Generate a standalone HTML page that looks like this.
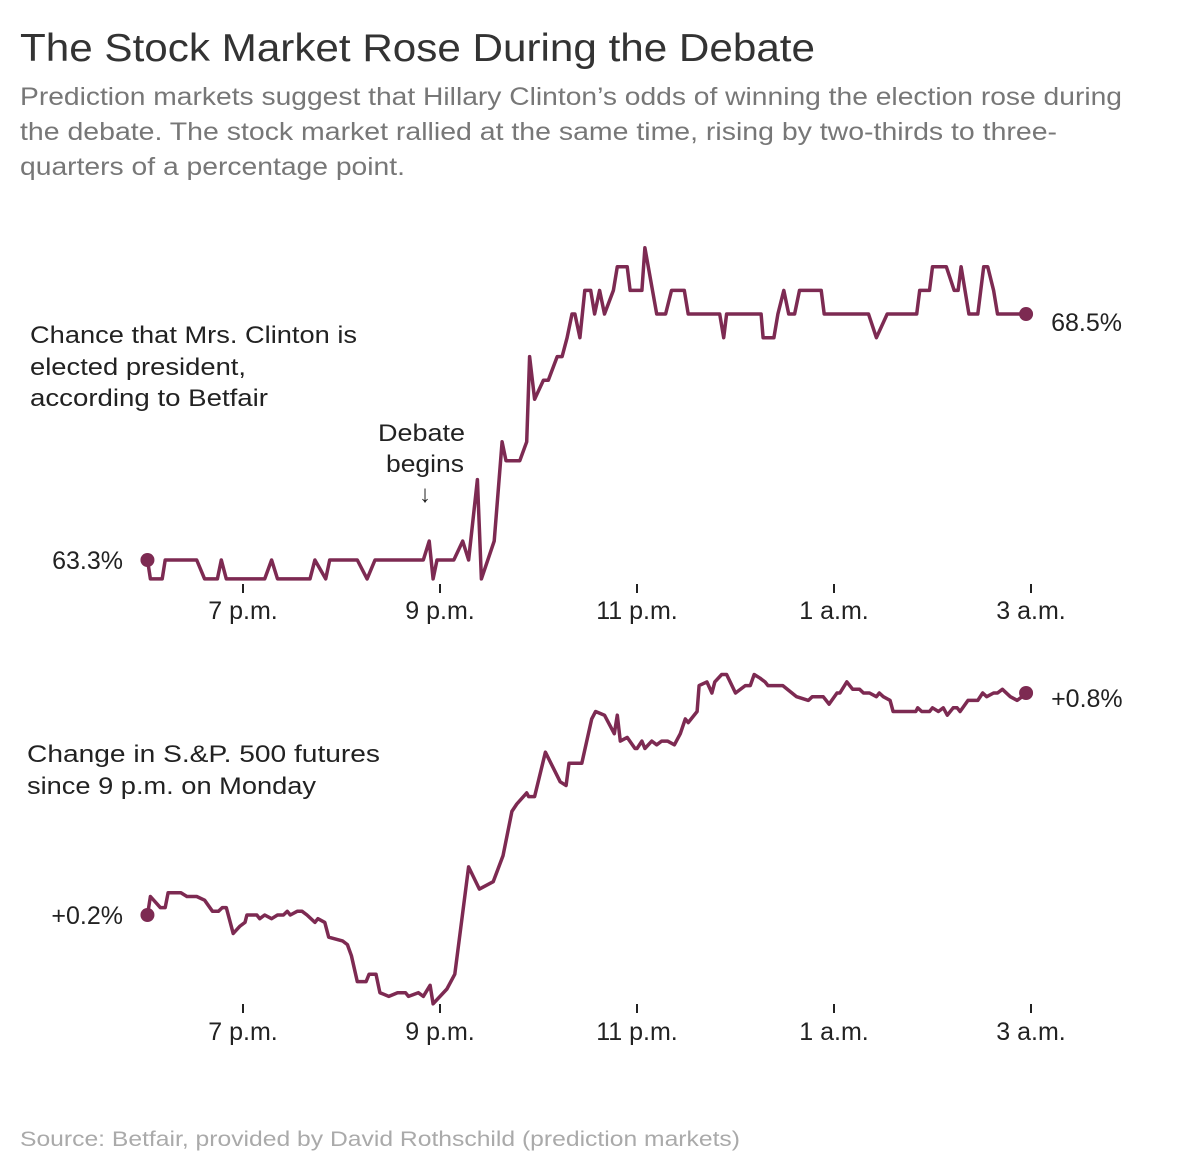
<!DOCTYPE html>
<html><head><meta charset="utf-8"><style>
body{margin:0;background:#fff;}
svg{display:block;font-family:"Liberation Sans",sans-serif;}
</style></head><body>
<svg id="chart" width="1200" height="1172" viewBox="0 0 1200 1172">
<text x="20" y="61" font-size="39" fill="#333" textLength="795" lengthAdjust="spacingAndGlyphs">The Stock Market Rose During the Debate</text>
<g font-size="25" fill="#777">
<text x="20" y="105" textLength="1102" lengthAdjust="spacingAndGlyphs">Prediction markets suggest that Hillary Clinton’s odds of winning the election rose during</text>
<text x="20" y="140" textLength="1037" lengthAdjust="spacingAndGlyphs">the debate. The stock market rallied at the same time, rising by two-thirds to three-</text>
<text x="20" y="175" textLength="385" lengthAdjust="spacingAndGlyphs">quarters of a percentage point.</text>
</g>
<g font-size="24" fill="#222">
<text x="30" y="343" textLength="327" lengthAdjust="spacingAndGlyphs">Chance that Mrs. Clinton is</text>
<text x="30" y="375" textLength="216" lengthAdjust="spacingAndGlyphs">elected president,</text>
<text x="30" y="406" textLength="238" lengthAdjust="spacingAndGlyphs">according to Betfair</text>
</g>
<g font-size="24" fill="#222">
<text x="378" y="441" textLength="87" lengthAdjust="spacingAndGlyphs">Debate</text>
<text x="386" y="472" textLength="78" lengthAdjust="spacingAndGlyphs">begins</text>
<text x="425" y="502" text-anchor="middle">↓</text>
</g>
<g font-size="24" fill="#222">
<text x="27" y="762" textLength="353" lengthAdjust="spacingAndGlyphs">Change in S.&amp;P. 500 futures</text>
<text x="27" y="794" textLength="289" lengthAdjust="spacingAndGlyphs">since 9 p.m. on Monday</text>
</g>
<text x="20" y="1146" font-size="21" fill="#aaa" textLength="720" lengthAdjust="spacingAndGlyphs">Source: Betfair, provided by David Rothschild (prediction markets)</text>
<g id="topChart"></g>
<g id="botChart"></g>
</svg>
<script>
const tickHours = [1, 3, 5, 7, 9];
const tickLabels = ["7 p.m.", "9 p.m.", "11 p.m.", "1 a.m.", "3 a.m."];
// hours after 6 p.m.
const betfairTimes = [0.03,0.06,0.18,0.21,0.53,0.61,0.74,0.78,0.83,1.22,1.29,1.35,1.68,1.73,1.84,1.88,2.16,2.26,2.34,2.83,2.89,2.93,2.97,3.14,3.23,3.29,3.38,3.42,3.55,3.63,3.67,3.81,3.88,3.91,3.96,4.05,4.10,4.19,4.24,4.29,4.34,4.37,4.42,4.47,4.53,4.57,4.62,4.67,4.76,4.80,4.90,4.93,5.05,5.08,5.20,5.29,5.35,5.48,5.52,5.84,5.88,5.91,6.26,6.28,6.39,6.43,6.49,6.54,6.60,6.65,6.87,6.90,7.35,7.43,7.54,7.84,7.87,7.97,8.00,8.14,8.22,8.26,8.29,8.37,8.46,8.52,8.56,8.62,8.66,8.95];
const betfairValues = [63.3,62.9,62.9,63.3,63.3,62.9,62.9,63.3,62.9,62.9,63.3,62.9,62.9,63.3,62.9,63.3,63.3,62.9,63.3,63.3,63.7,62.9,63.3,63.3,63.7,63.3,65.0,62.9,63.7,65.8,65.4,65.4,65.8,67.6,66.7,67.1,67.1,67.6,67.6,68.0,68.5,68.5,68.0,69.0,69.0,68.5,69.0,68.5,69.0,69.5,69.5,69.0,69.0,69.9,68.5,68.5,69.0,69.0,68.5,68.5,68.0,68.5,68.5,68.0,68.0,68.5,69.0,68.5,68.5,69.0,69.0,68.5,68.5,68.0,68.5,68.5,69.0,69.0,69.5,69.5,69.0,69.0,69.5,68.5,68.5,69.5,69.5,69.0,68.5,68.5];
const spTimes = [0.03,0.06,0.16,0.21,0.24,0.37,0.43,0.53,0.61,0.69,0.75,0.79,0.83,0.90,0.97,1.02,1.04,1.14,1.17,1.22,1.29,1.35,1.41,1.45,1.48,1.55,1.60,1.65,1.73,1.76,1.83,1.87,2.01,2.06,2.10,2.16,2.25,2.28,2.35,2.39,2.48,2.57,2.65,2.68,2.78,2.83,2.90,2.93,3.07,3.15,3.29,3.40,3.54,3.64,3.73,3.78,3.88,3.90,3.96,4.07,4.22,4.28,4.31,4.44,4.54,4.58,4.67,4.77,4.80,4.83,4.90,4.98,5.00,5.05,5.08,5.15,5.20,5.25,5.31,5.38,5.44,5.49,5.52,5.61,5.63,5.71,5.76,5.79,5.86,5.91,6.00,6.10,6.15,6.19,6.25,6.30,6.33,6.48,6.62,6.74,6.78,6.89,6.95,7.03,7.06,7.13,7.19,7.26,7.30,7.36,7.43,7.46,7.50,7.57,7.60,7.83,7.85,7.89,7.97,8.00,8.06,8.11,8.15,8.21,8.25,8.28,8.36,8.46,8.51,8.55,8.62,8.66,8.71,8.79,8.86,8.91,8.95];
const spValues = [0.20,0.25,0.22,0.22,0.26,0.26,0.25,0.25,0.24,0.21,0.21,0.22,0.22,0.15,0.17,0.18,0.20,0.20,0.19,0.20,0.19,0.20,0.20,0.21,0.20,0.21,0.21,0.20,0.18,0.19,0.18,0.14,0.13,0.12,0.09,0.02,0.02,0.04,0.04,-0.01,-0.02,-0.01,-0.01,-0.02,-0.01,-0.02,0.01,-0.04,0.00,0.04,0.33,0.27,0.29,0.36,0.48,0.50,0.53,0.52,0.52,0.64,0.56,0.55,0.61,0.61,0.73,0.75,0.74,0.69,0.74,0.67,0.68,0.65,0.65,0.67,0.65,0.67,0.66,0.67,0.67,0.66,0.69,0.73,0.72,0.75,0.82,0.83,0.80,0.83,0.85,0.85,0.80,0.82,0.82,0.85,0.84,0.83,0.82,0.82,0.79,0.78,0.79,0.79,0.77,0.80,0.80,0.83,0.81,0.81,0.80,0.80,0.79,0.80,0.79,0.78,0.75,0.75,0.76,0.75,0.75,0.76,0.75,0.76,0.74,0.76,0.76,0.75,0.78,0.78,0.80,0.79,0.80,0.80,0.81,0.79,0.78,0.79,0.80];

const NS = "http://www.w3.org/2000/svg";
const COLOR = "#7d2a52";
const xScale = h => 144.5 + h * 98.5;
const yTop = v => 560 - (v - 63.3) * 47.3;
const yBot = v => 915 - (v - 0.2) * 370;

function mk(tag, attrs, parent) {
  const e = document.createElementNS(NS, tag);
  for (const k in attrs) e.setAttribute(k, attrs[k]);
  parent.appendChild(e);
  return e;
}
function axis(g, tickY, labelY) {
  tickHours.forEach((h, i) => {
    const t = mk("line", {x1: xScale(h), x2: xScale(h), y1: tickY, y2: tickY + 9, stroke: "#222", "stroke-width": 2}, g);
    
    
    const l = mk("text", {x: xScale(h), y: labelY, "text-anchor": "middle", "font-size": 25, fill: "#222"}, g);
    l.textContent = tickLabels[i];
    
    
  });
}
function series(g, times, vals, ys, endLabel, startLabel, lblDy) {
  const d = times.map((t, i) => (i ? "L" : "M") + xScale(t).toFixed(1) + "," + ys(vals[i]).toFixed(1)).join("");
  const p = mk("path", {d: d, fill: "none", stroke: COLOR, "stroke-width": 3.5, "stroke-linejoin": "round"}, g);
  
  
  const n = times.length - 1;
  const c1 = mk("circle", {cx: xScale(times[0]), cy: ys(vals[0]), r: 7, fill: COLOR}, g);
  
  
  const c2 = mk("circle", {cx: xScale(times[n]), cy: ys(vals[n]), r: 7, fill: COLOR}, g);
  
  
  const s = mk("text", {x: 123, y: ys(vals[0]) + 9, "text-anchor": "end", "font-size": 25, fill: "#222"}, g);
  s.textContent = startLabel;
  
  
  const e = mk("text", {x: xScale(times[n]) + 25, y: ys(vals[n]) + lblDy, "font-size": 25, fill: "#222"}, g);
  e.textContent = endLabel;
  
  
}
const topG = document.getElementById("topChart");
const botG = document.getElementById("botChart");
axis(topG, 584, 619);
axis(botG, 1004, 1040);
series(topG, betfairTimes, betfairValues, yTop, "68.5%", "63.3%", 17);
series(botG, spTimes, spValues, yBot, "+0.8%", "+0.2%", 14);
</script>
</body></html>
